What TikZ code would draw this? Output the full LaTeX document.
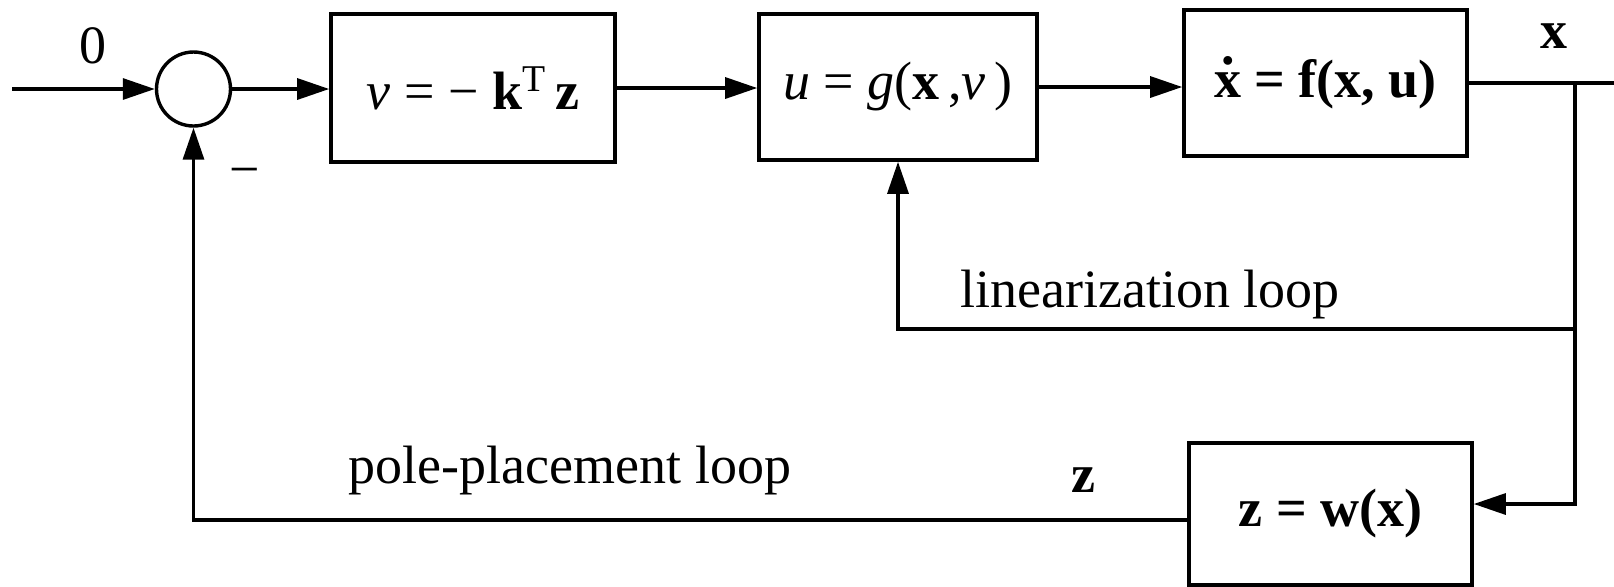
\documentclass[tikz,border=0pt]{standalone}
\usepackage{fontspec}
\setmainfont{Liberation Serif}
\usetikzlibrary{arrows.meta,calc}
\newcommand{\mydotx}{\rlap{\hspace{0.13em}\raisebox{0.62em}{\textbf{.}}}\textbf{x}}
\begin{document}
\begin{tikzpicture}[x=0.5pt,y=-0.5pt,
  blk/.style={draw,line width=1.8pt,minimum width=#1,inner sep=0pt},
  sumnode/.style={draw,circle,line width=1.7pt,minimum size=37pt,inner sep=0pt},
  wire/.style={line width=1.6pt},
  arr/.style={wire,-{Triangle[length=16pt,width=10.5pt]}},
  lbl/.style={inner sep=0pt},
  font=\fontsize{27}{32}\selectfont]
\useasboundingbox (0,0) rectangle (1614,586);
% blocks
\node[blk=142pt,minimum height=74pt] (b1) at (473,88) {\textit{v} = − \textbf{k}\textsuperscript{T}\,\textbf{z}};
\node[blk=139pt,minimum height=73pt] (b2) at (898,87) {\textit{u} = \textit{g}(\textbf{x}\,,\textit{v}\,)};
\node[blk=141.5pt,minimum height=73pt] (b3) at (1325.5,83) {\mydotx\ \textbf{= f(x, u)}};
\node[blk=141.5pt,minimum height=71pt] (b4) at (1330.5,514) {\textbf{z = w(x)}};
\node[sumnode] (sum) at (193.5,89) {};
% coordinates
\coordinate (in) at (12,89);
\coordinate (out) at (1614,83);
\coordinate (br) at (1575,83);
\coordinate (lin) at (1575,329);
% labels
\node[lbl] (l0) at (93,46) {0};
\node[lbl] (lx) at (1554,36) {\textbf{x}};
\node[lbl] (lz) at (1083,480) {\textbf{z}};
\node[lbl] (lm) at (245,178) {−};
\node[lbl] (llin) at (1150,295) {linearization loop};
\node[lbl] (lpole) at (570,471) {pole-placement loop};
% connectors
\draw[arr] (in) -- (sum.west);
\draw[arr] (sum.east) -- (b1.west |- sum.east);
\draw[arr] (b1.east) -- (b2.west |- b1.east);
\draw[arr] (b2.east) -- (b3.west |- b2.east);
\draw[wire] (b3.east) -- (out);
\draw[arr] (br) |- ([yshift=5pt]b4.east);
\draw[arr] (lin) -| (b2.south);
\draw[arr] ([yshift=-3pt]b4.west) -| (sum.south);
\end{tikzpicture}
\end{document}
